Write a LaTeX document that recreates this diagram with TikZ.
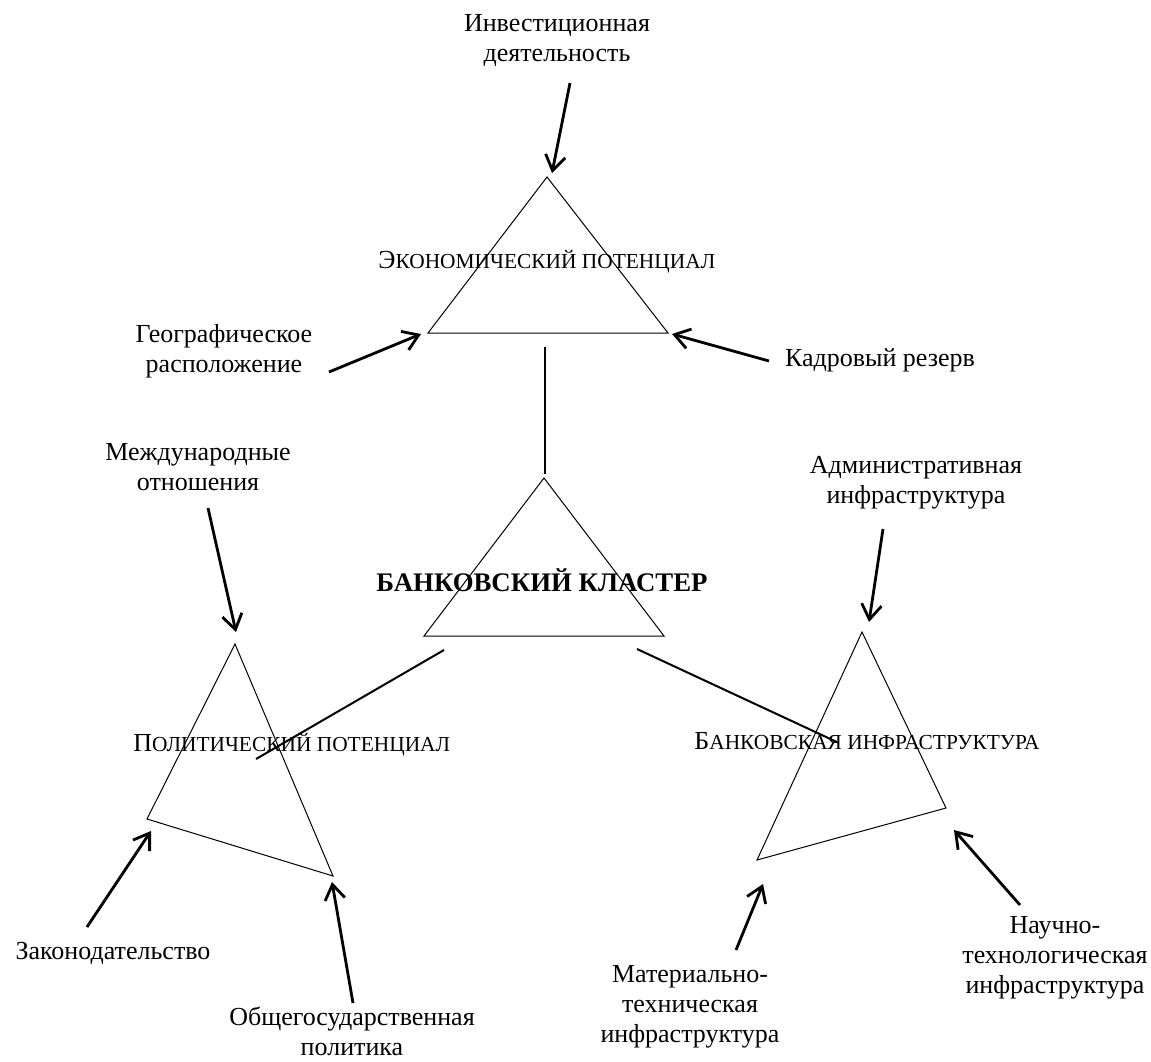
\documentclass[tikz,border=0pt]{standalone}
\usepackage{fontspec}
\setmainfont{Liberation Serif}
\usetikzlibrary{arrows.meta}
\newcommand{\fsc}[2]{{\fontsize{13}{15}\selectfont #1}{\fontsize{10.7}{15}\selectfont #2}}
\begin{document}
\begin{tikzpicture}[x=0.5pt,y=-0.5pt,
  lbl/.style={font=\fontsize{13}{15}\selectfont, align=center, inner sep=0pt},
  tri/.style={line width=0.5pt, line join=miter},
  link/.style={line width=1pt},
  arr/.style={line width=1.4pt, -{Straight Barb[length=7.5pt,width=10pt]}}]
\useasboundingbox (0,0) rectangle (1151,1061);

% labels
\node[lbl] (inv) at (557,40) {Инвестиционная\\деятельность};
\node[lbl, anchor=west] (eco) at (378,262) {\fsc{Э}{КОНОМИЧЕСКИЙ ПОТЕНЦИАЛ}};
\node[lbl] (geo) at (224,351) {Географическое\\расположение};
\node[lbl] (kadr) at (880,360) {Кадровый резерв};
\node[lbl] (mezh) at (198,467) {Международные\\отношения};
\node[lbl] (adm) at (916,483) {Административная\\инфраструктура};
\node[lbl, font=\fontsize{13.4}{15}\selectfont\bfseries] (bank) at (542,580) {БАНКОВСКИЙ КЛАСТЕР};
\node[lbl, anchor=west] (pol) at (133,745) {\fsc{П}{ОЛИТИЧЕСКИЙ ПОТЕНЦИАЛ}};
\node[lbl, anchor=west] (binf) at (694,741) {\fsc{Б}{АНКОВСКАЯ ИНФРАСТРУКТУРА}};
\node[lbl] (zak) at (113,953) {Законодательство};
\node[lbl] (obsh) at (352,1031) {Общегосударственная\\политика};
\node[lbl] (nauch) at (1055,958) {Научно-\\технологическая\\инфраструктура};
\node[lbl] (mat) at (690,1007) {Материально-\\техническая\\инфраструктура};

% triangles
\coordinate (t1a) at (547,177); \coordinate (t1l) at (428,333); \coordinate (t1r) at (668,333);
\coordinate (t2a) at (544,478); \coordinate (t2l) at (424,636); \coordinate (t2r) at (664,636);
\coordinate (t3a) at (235,644); \coordinate (t3l) at (147,819); \coordinate (t3r) at (333,876);
\coordinate (t4a) at (862,632); \coordinate (t4r) at (946,808); \coordinate (t4l) at (757,860);
\draw[tri] (t1a) -- (t1l) -- (t1r) -- cycle;
\draw[tri] (t2a) -- (t2l) -- (t2r) -- cycle;
\draw[tri] (t3a) -- (t3l) -- (t3r) -- cycle;
\draw[tri] (t4a) -- (t4r) -- (t4l) -- cycle;

% links
\coordinate (v1) at (545,347); \coordinate (v2) at (545,474);
\coordinate (l1) at (444,650); \coordinate (l2) at (256,759);
\coordinate (r1) at (637,649); \coordinate (r2) at (839,743);
\draw[link] (v1) -- (v2);
\draw[link] (l1) -- (l2);
\draw[link] (r1) -- (r2);

% arrows
\coordinate (ai1) at (570,83);  \coordinate (ai2) at (552,173);
\coordinate (ag1) at (329,372); \coordinate (ag2) at (421,334);
\coordinate (ak1) at (769,361); \coordinate (ak2) at (672,334);
\coordinate (am1) at (208,508); \coordinate (am2) at (236,632);
\coordinate (aa1) at (883,529); \coordinate (aa2) at (869,622);
\coordinate (az1) at (87,927);  \coordinate (az2) at (151,831);
\coordinate (ao1) at (353,1003); \coordinate (ao2) at (332,882);
\coordinate (an1) at (1020,905); \coordinate (an2) at (954,830);
\coordinate (at1) at (736,950); \coordinate (at2) at (763,884);
\draw[arr] (ai1) -- (ai2);
\draw[arr] (ag1) -- (ag2);
\draw[arr] (ak1) -- (ak2);
\draw[arr] (am1) -- (am2);
\draw[arr] (aa1) -- (aa2);
\draw[arr] (az1) -- (az2);
\draw[arr] (ao1) -- (ao2);
\draw[arr] (an1) -- (an2);
\draw[arr] (at1) -- (at2);
\end{tikzpicture}
\end{document}
